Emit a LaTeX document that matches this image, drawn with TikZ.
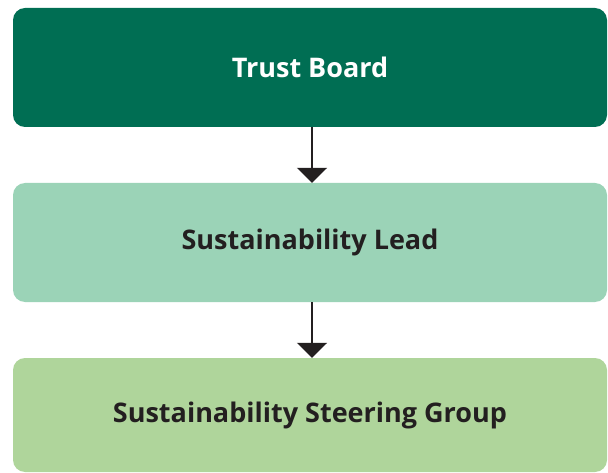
\documentclass[tikz,border=0pt]{standalone}
\usepackage{fontspec}
\setmainfont{Open Sans}
\usetikzlibrary{arrows.meta}
\definecolor{boardgreen}{HTML}{006E53}
\definecolor{leadgreen}{HTML}{9BD3B7}
\definecolor{groupgreen}{HTML}{AFD59B}
\definecolor{textdark}{HTML}{231F20}
\tikzset{
  orgbox/.style={rectangle, rounded corners=12pt, minimum width=594pt, minimum height=119pt,
    inner sep=0pt, font=\fontsize{27}{32}\selectfont\bfseries, text=textdark},
  orgarrow/.style={line width=2pt, textdark, -{Triangle[width=30pt,length=15pt]}}
}
\begin{document}
\begin{tikzpicture}[x=1pt,y=-1pt]
 \useasboundingbox (0,0) rectangle (608,473);
 \node[orgbox,fill=boardgreen,text=white] (board) at (310,67.5) {Trust Board};
 \node[orgbox,fill=leadgreen] (lead) at (310,242.5) {Sustainability Lead};
 \node[orgbox,fill=groupgreen,minimum height=114pt] (group) at (310,415) {Sustainability Steering Group};
 \draw[orgarrow] ([xshift=2pt]board.south) -- ([xshift=2pt]lead.north);
 \draw[orgarrow] ([xshift=2pt]lead.south) -- ([xshift=2pt]group.north);
\end{tikzpicture}
\end{document}
